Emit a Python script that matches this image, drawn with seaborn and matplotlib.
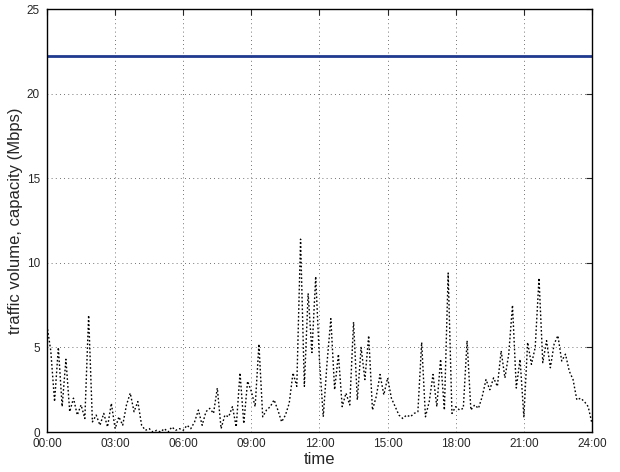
import matplotlib
matplotlib.use("Agg")
import matplotlib.pyplot as plt
import numpy as np
import pandas as pd
import seaborn as sns

# Traffic volume sampled every 10 minutes over one day (Mbps)
traffic_mbps = [
    6.3, 4.8, 1.8, 5.0, 1.5, 4.3,
    1.2, 2.0, 1.0, 1.6, 0.8, 6.9,
    0.6, 1.0, 0.4, 1.1, 0.3, 1.7,
    0.2, 0.9, 0.4, 1.6, 2.3, 1.2,
    1.8, 0.4, 0.1, 0.2, 0.0, 0.1,
    0.0, 0.2, 0.0, 0.3, 0.1, 0.2,
    0.1, 0.4, 0.2, 0.6, 1.3, 0.4,
    1.2, 1.4, 1.1, 2.6, 0.2, 1.0,
    0.9, 1.5, 0.3, 3.5, 0.5, 3.0,
    2.4, 1.5, 5.2, 0.9, 1.3, 1.5,
    1.9, 1.3, 0.6, 1.0, 1.7, 3.5,
    2.7, 11.4, 2.7, 8.2, 4.7, 9.2,
    4.2, 0.9, 4.1, 6.7, 2.5, 4.6,
    1.5, 2.3, 1.6, 6.5, 1.9, 5.0,
    3.1, 5.7, 1.3, 2.1, 3.4, 2.2,
    3.2, 2.0, 1.5, 1.0, 0.8, 1.0,
    0.9, 1.1, 1.2, 5.3, 0.9, 1.8,
    3.4, 1.5, 4.3, 1.3, 9.4, 1.1,
    1.5, 1.3, 1.4, 5.4, 1.3, 1.6,
    1.4, 2.1, 3.1, 2.5, 3.2, 2.7,
    4.8, 3.2, 4.6, 7.5, 2.6, 4.3,
    0.9, 5.3, 4.0, 5.0, 9.1, 4.1,
    5.4, 3.8, 5.2, 5.7, 4.2, 4.6,
    3.6, 3.1, 1.9, 2.0, 1.8, 1.5,
    0.5,
]
time_hours = [i / 6 for i in range(len(traffic_mbps))]

# Link capacity (Mbps), constant over the day
capacity_mbps = 22.2
capacity_hours = [0, 24]

tick_hours = [0, 3, 6, 9, 12, 15, 18, 21, 24]
tick_labels = ["00:00", "03:00", "06:00", "09:00", "12:00",
               "15:00", "18:00", "21:00", "24:00"]
y_ticks = [0, 5, 10, 15, 20, 25]

sns.set_style("white")
plt.rcParams["font.family"] = ["Liberation Sans", "DejaVu Sans"]

traffic = pd.DataFrame({"time": time_hours, "volume": traffic_mbps})
capacity = pd.DataFrame({"time": capacity_hours,
                         "volume": [capacity_mbps] * len(capacity_hours)})

fig = plt.figure(figsize=(6.2, 4.72), dpi=100)
ax = fig.add_axes([0.0758, 0.0847, 0.879, 0.896])

sns.lineplot(data=traffic, x="time", y="volume", ax=ax, color="black",
             linestyle=(0, (1.2, 1.6)), linewidth=1.0)
sns.lineplot(data=capacity, x="time", y="volume", ax=ax, color="#1f3a8f",
             linewidth=2.0)

ax.set_xlim(0, 24)
ax.set_ylim(0, 25)
ax.set_xticks(tick_hours)
ax.set_xticklabels(tick_labels)
ax.set_yticks(y_ticks)
ax.tick_params(axis="both", direction="in", length=4, width=0.8,
               labelsize=8.5, top=True, right=True)
ax.tick_params(axis="x", pad=4.5)
ax.tick_params(axis="y", pad=5)
ax.grid(True, linestyle=(0, (1, 4)), color="#444444", linewidth=0.6)
for s in ax.spines.values():
    s.set_color("black")
    s.set_linewidth(1.0)

ax.set_xlabel("time", fontsize=12, labelpad=1)
ax.set_ylabel("traffic volume, capacity (Mbps)", fontsize=12, labelpad=3)

fig.savefig("out.png", dpi=100)
